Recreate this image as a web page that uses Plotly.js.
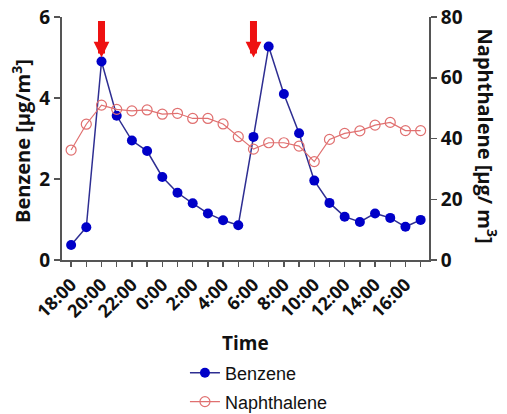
<!DOCTYPE html>
<html>
<head>
<meta charset="utf-8">
<script src="https://cdn.plot.ly/plotly-3.0.1.min.js"></script>
<style>html,body{margin:0;padding:0;background:#fff;}#chart{width:507px;height:414px;}</style>
</head>
<body>
<div id="chart"></div>
<script>
// ---- data ----
const times = ['18:00','19:00','20:00','21:00','22:00','23:00','0:00','1:00','2:00','3:00','4:00','5:00',
               '6:00','7:00','8:00','9:00','10:00','11:00','12:00','13:00','14:00','15:00','16:00','17:00'];
const tickLabels = ['18:00','20:00','22:00','0:00','2:00','4:00','6:00','8:00','10:00','12:00','14:00','16:00'];
const benzene = [0.37, 0.81, 4.90, 3.56, 2.95, 2.69, 2.05, 1.66, 1.40, 1.15, 0.98, 0.86,
                 3.04, 5.27, 4.10, 3.13, 1.96, 1.41, 1.07, 0.94, 1.15, 1.04, 0.82, 0.99];
const naphthalene = [36.2, 44.7, 51.0, 49.6, 49.1, 49.4, 48.0, 48.3, 46.6, 46.6, 44.8, 40.6,
                     36.5, 38.6, 38.6, 37.5, 32.4, 39.7, 41.7, 42.5, 44.4, 45.3, 42.6, 42.6];
const arrowTimes = ['20:00', '6:00'];
const arrowTipValue = 5.0;

const FONT = 'Open Sans, Liberation Sans, Arial, sans-serif';
const AX = '#555555';

const traces = [
  {
    x: times, y: benzene, name: 'Benzene', type: 'scatter', mode: 'lines+markers',
    line: {color: '#2e2e92', width: 1.5},
    marker: {color: '#0000c8', size: 10, line: {width: 0}},
    yaxis: 'y', legend: 'legend'
  },
  {
    x: times, y: naphthalene, name: 'Naphthalene', type: 'scatter', mode: 'lines+markers',
    line: {color: '#e07070', width: 1.2},
    marker: {symbol: 'circle-open', color: '#e07070', size: 10, line: {width: 1.2}},
    yaxis: 'y2', legend: 'legend2'
  }
];

const annotations = arrowTimes.map(t => ({
  x: t, y: arrowTipValue, xref: 'x', yref: 'y', text: '', showarrow: true,
  arrowhead: 2, arrowwidth: 7, arrowsize: 0.45, arrowcolor: '#ee1111',
  ax: 0, ay: -38
}));
annotations.push(
  {text: 'Benzene [μg/m<sup>3</sup>]', xref: 'paper', yref: 'paper', x: -0.109, y: 0.49,
   textangle: -90, showarrow: false, xanchor: 'center', yanchor: 'middle',
   font: {family: FONT, size: 20, color: '#111', weight: 'bold'}},
  {text: 'Naphthalene [μg/ m<sup>3</sup>]', xref: 'paper', yref: 'paper', x: 1.158, y: 0.508,
   textangle: 90, showarrow: false, xanchor: 'center', yanchor: 'middle',
   font: {family: FONT, size: 20, color: '#111', weight: 'bold'}},
  {text: 'Time', xref: 'paper', yref: 'paper', x: 0.501, y: -0.342,
   showarrow: false, xanchor: 'center', yanchor: 'middle',
   font: {family: FONT, size: 19, color: '#111', weight: 'bold'}}
);

const evenTimes = times.filter((t, i) => i % 2 === 0);

const layout = {
  width: 507, height: 414,
  margin: {l: 62, r: 78, t: 17, b: 154, pad: 0, autoexpand: false},
  paper_bgcolor: '#fff', plot_bgcolor: '#fff',
  showlegend: true,
  xaxis: {
    type: 'category', range: [-0.6, 23.55],
    tickmode: 'array', tickvals: evenTimes, ticktext: tickLabels,
    tickangle: -45, ticks: 'outside', ticklen: 5, tickwidth: 1.5, tickcolor: AX,
    minor: {tickmode: 'array', tickvals: times, ticks: 'outside', ticklen: 5, tickwidth: 1.5, tickcolor: AX, showgrid: false},
    showline: true, linecolor: AX, linewidth: 2, showgrid: false, zeroline: false,
    tickfont: {family: FONT, size: 18, color: '#111', weight: 'bold'}
  },
  yaxis: {
    range: [0, 6], tickvals: [0, 2, 4, 6], ticks: 'outside', ticklen: 6, tickwidth: 1.5,
    tickcolor: AX, showline: true, linecolor: AX, linewidth: 2, showgrid: false, zeroline: false,
    tickfont: {family: FONT, size: 19, color: '#111', weight: 'bold'}
  },
  yaxis2: {
    range: [0, 80], tickvals: [0, 20, 40, 60, 80], overlaying: 'y', side: 'right',
    ticks: 'outside', ticklen: 6, tickwidth: 1.5, tickcolor: AX,
    showline: true, linecolor: AX, linewidth: 2, showgrid: false, zeroline: false,
    tickfont: {family: FONT, size: 19, color: '#111', weight: 'bold'}
  },
  legend: {x: 0.335, y: -0.465, xanchor: 'left', yanchor: 'middle', bgcolor: 'rgba(0,0,0,0)',
           font: {family: 'Liberation Sans, Arial, sans-serif', size: 18, color: '#111'}},
  legend2: {x: 0.335, y: -0.584, xanchor: 'left', yanchor: 'middle', bgcolor: 'rgba(0,0,0,0)',
           font: {family: 'Liberation Sans, Arial, sans-serif', size: 18, color: '#111'}},
  annotations: annotations
};

Plotly.newPlot('chart', traces, layout, {displayModeBar: false, staticPlot: true});
</script>
</body>
</html>
